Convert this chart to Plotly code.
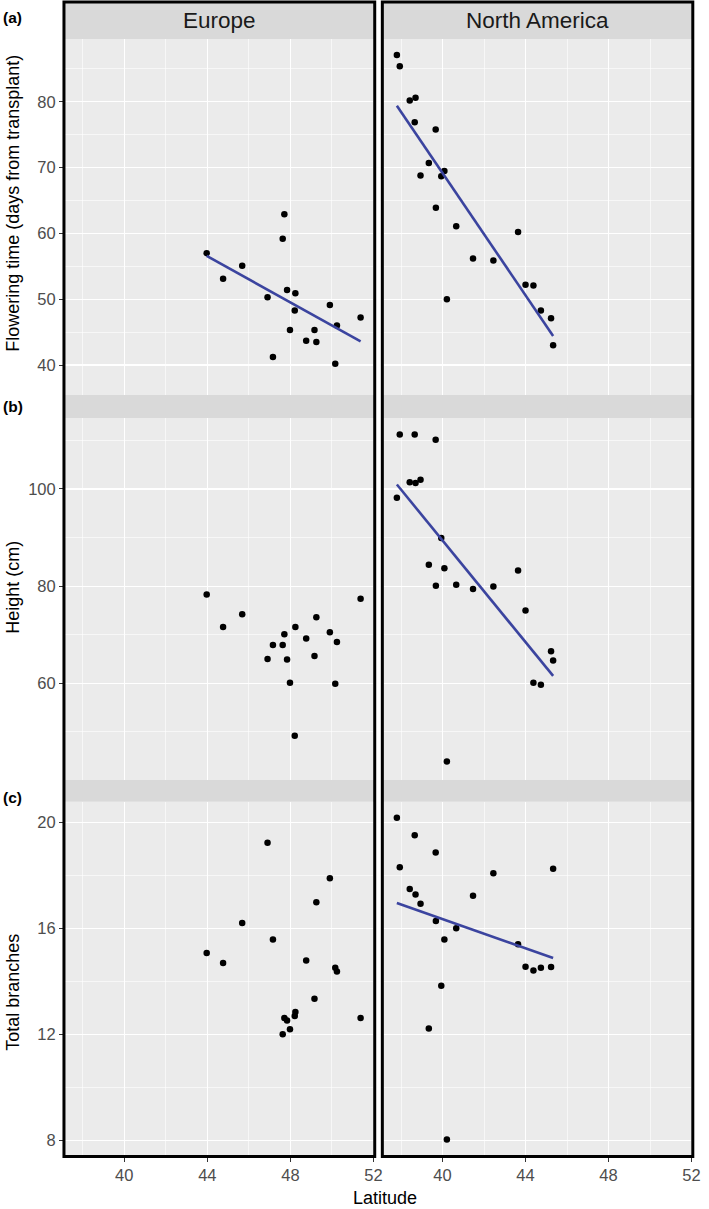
import numpy as np
import plotly.graph_objects as go

# ---------------- data ----------------
eu_lat = [43.97, 44.76, 45.68, 46.90, 47.16, 47.63, 47.71, 47.84, 47.98, 48.21,
          48.24, 48.76, 49.16, 49.25, 49.90, 50.16, 50.24, 51.38]
eu_flowering = [57.0, 53.1, 55.1, 50.3, 41.2, 59.2, 62.9, 51.4, 45.3, 48.3,
                50.9, 43.7, 45.3, 43.5, 49.1, 40.2, 46.0, 47.2]
eu_height = [78.3, 71.6, 74.2, 65.0, 67.9, 67.9, 70.1, 64.9, 60.1, 49.2,
             71.6, 69.2, 65.6, 73.6, 70.5, 59.9, 68.5, 77.4]
eu_branches = [15.08, 14.70, 16.21, 19.24, 15.59, 12.01, 12.63, 12.53, 12.20, 12.70,
               12.85, 14.80, 13.35, 17.00, 17.90, 14.52, 14.38, 12.63]

na_lat = [37.80, 37.94, 38.42, 38.66, 38.70, 38.94, 39.34, 39.67, 39.68, 39.94,
          40.09, 40.21, 40.66, 41.47, 42.45, 43.64, 44.00, 44.38, 44.74, 45.23, 45.33]
na_flowering = [87.1, 85.4, 80.2, 76.9, 80.6, 68.8, 70.7, 75.8, 63.9, 68.7,
                69.5, 50.0, 61.1, 56.2, 55.9, 60.2, 52.2, 52.1, 48.3, 47.1, 43.0]
na_height = [98.2, 111.2, 101.4, 111.2, 101.2, 101.9, 84.4, 110.1, 80.1, 89.9,
             83.7, 43.9, 80.3, 79.4, 79.9, 83.2, 75.0, 60.1, 59.7, 66.6, 64.7]
na_branches = [20.18, 18.32, 17.50, 19.52, 17.29, 16.94, 12.23, 18.87, 16.29, 13.84,
               15.59, 8.04, 16.01, 17.24, 18.09, 15.41, 14.56, 14.42, 14.52, 14.55, 18.26]

regions = ["Europe", "North America"]
row_titles = ["Flowering time (days from transplant)", "Height (cm)", "Total branches"]
row_tags = ["(a)", "(b)", "(c)"]
x_ticks = [40, 44, 48, 52]

# (lat, values, draw fit line)
panels = [
    [(eu_lat, eu_flowering, True), (na_lat, na_flowering, True)],
    [(eu_lat, eu_height, False), (na_lat, na_height, True)],
    [(eu_lat, eu_branches, False), (na_lat, na_branches, True)],
]

# ---------------- layout geometry (pixels) ----------------
W, H = 709, 1209
col_px = [(64.7, 379.0), (386.7, 700.7)]
strip_px = [(2.0, 39.3), (395.0, 418.0), (780.0, 801.7)]
panel_px = [(39.3, 395.0), (418.0, 780.0), (801.7, 1156.5)]
y_ranges = [[35.44, 89.5], [40.1, 114.6], [7.40, 20.79]]
y_major = [dict(tick0=40, dtick=10), dict(tick0=60, dtick=20), dict(tick0=8, dtick=4)]
y_minor = [5, 10, 2]
x_range = [37.1, 52.06]
title_y = [203, 587, 992]
tag_y = [17, 407, 797]

def px(x):
    return x / W

def py(y):
    return 1 - y / H

FONT = "Liberation Sans, Arial, sans-serif"
GRID = "#FFFFFF"
LINE_COL = "#3B449F"
TICK_SIZE = 16.5
TITLE_SIZE = 18

fig = go.Figure()
layout = dict(
    width=W, height=H,
    margin=dict(l=0, r=0, t=0, b=0),
    paper_bgcolor="white", plot_bgcolor="#EBEBEB",
    showlegend=False,
    font=dict(family=FONT, color="#4D4D4D"),
)

shapes = []
annotations = []

for r in range(3):
    for c in range(2):
        i = r * 2 + c + 1
        xa = "x" if i == 1 else f"x{i}"
        ya = "y" if i == 1 else f"y{i}"
        lat, vals, fit = panels[r][c]
        fig.add_trace(go.Scatter(
            x=lat, y=vals, mode="markers",
            marker=dict(color="black", size=6.5),
            xaxis=xa, yaxis=ya, hoverinfo="skip"))
        if fit:
            k, b = np.polyfit(lat, vals, 1)
            xs = np.array([min(lat), max(lat)])
            fig.add_trace(go.Scatter(
                x=xs, y=k * xs + b, mode="lines",
                line=dict(color=LINE_COL, width=2.6),
                xaxis=xa, yaxis=ya, hoverinfo="skip"))
        xkey = "xaxis" if i == 1 else f"xaxis{i}"
        ykey = "yaxis" if i == 1 else f"yaxis{i}"
        layout[xkey] = dict(
            domain=[px(col_px[c][0]), px(col_px[c][1])],
            anchor=ya, range=x_range,
            tickvals=x_ticks,
            showticklabels=(r == 2),
            ticks="outside" if r == 2 else "",
            ticklen=4, tickcolor="#333333", tickwidth=1,
            tickfont=dict(size=TICK_SIZE, color="#4D4D4D", family=FONT),
            showgrid=True, gridcolor=GRID, gridwidth=1.2,
            minor=dict(tick0=38, dtick=4, showgrid=True, gridcolor=GRID, gridwidth=0.6),
            zeroline=False, showline=False, fixedrange=True,
        )
        layout[ykey] = dict(
            domain=[py(panel_px[r][1]), py(panel_px[r][0])],
            anchor=xa, range=y_ranges[r],
            tickmode="linear", **y_major[r],
            showticklabels=(c == 0),
            ticks="outside" if c == 0 else "",
            ticklen=4, tickcolor="#333333", tickwidth=1,
            tickfont=dict(size=TICK_SIZE, color="#4D4D4D", family=FONT),
            showgrid=True, gridcolor=GRID, gridwidth=1.2,
            minor=dict(dtick=y_minor[r], showgrid=True, gridcolor=GRID, gridwidth=0.6),
            zeroline=False, showline=False, fixedrange=True,
        )
        # strip
        shapes.append(dict(
            type="rect", xref="paper", yref="paper",
            x0=px(col_px[c][0]), x1=px(col_px[c][1]),
            y0=py(strip_px[r][1]), y1=py(strip_px[r][0]),
            fillcolor="#D9D9D9", line=dict(width=0), layer="below"))
    # row title and tag
    annotations.append(dict(
        text=row_titles[r], xref="paper", yref="paper",
        x=px(13), y=py(title_y[r]), textangle=-90, showarrow=False,
        xanchor="center", yanchor="middle",
        font=dict(size=TITLE_SIZE, color="black", family=FONT)))
    annotations.append(dict(
        text=f"<b>{row_tags[r]}</b>", xref="paper", yref="paper",
        x=px(1), y=py(tag_y[r]), showarrow=False,
        xanchor="left", yanchor="middle",
        font=dict(size=15.5, color="black", family=FONT)))

# strip labels
for c in range(2):
    annotations.append(dict(
        text=regions[c], xref="paper", yref="paper",
        x=px((col_px[c][0] + col_px[c][1]) / 2), y=py((strip_px[0][0] + strip_px[0][1]) / 2),
        showarrow=False, xanchor="center", yanchor="middle",
        font=dict(size=22.5, color="#1A1A1A", family=FONT)))
    # column border
    shapes.append(dict(
        type="rect", xref="paper", yref="paper",
        x0=px(col_px[c][0]), x1=px(col_px[c][1]),
        y0=py(panel_px[2][1]), y1=py(strip_px[0][0]),
        line=dict(color="black", width=3), fillcolor="rgba(0,0,0,0)", layer="above"))

annotations.append(dict(
    text="Latitude", xref="paper", yref="paper",
    x=px(389), y=py(1198), showarrow=False, xanchor="center", yanchor="middle",
    font=dict(size=TITLE_SIZE, color="black", family=FONT)))

layout["shapes"] = shapes
layout["annotations"] = annotations
fig.update_layout(**layout)
fig.write_html(
    "out.html",
    config={"displayModeBar": False, "staticPlot": True},
    post_script=(
        "document.documentElement.style.margin='0px';"
        "document.documentElement.style.padding='0px';"
        "document.documentElement.style.overflow='hidden';"
        "document.body.style.margin='0px';"
        "document.body.style.padding='0px';"
        "document.body.style.overflow='hidden';"
    ),
)
